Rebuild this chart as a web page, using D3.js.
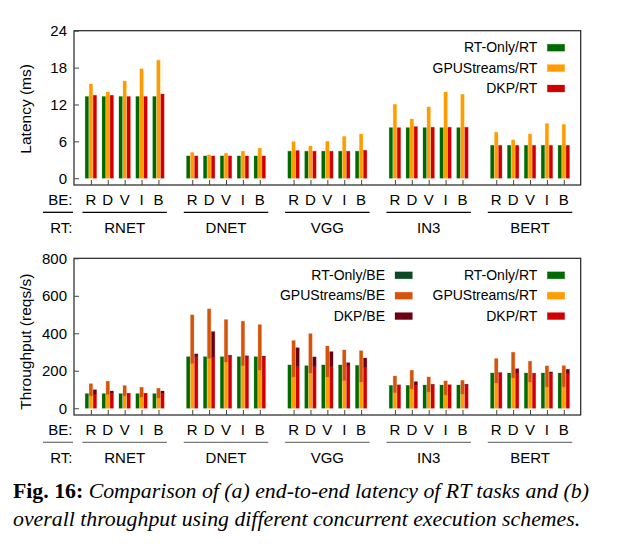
<!DOCTYPE html>
<html>
<head>
<meta charset="utf-8">
<script src="https://cdn.jsdelivr.net/npm/d3@7/dist/d3.min.js"></script>
<style>
  html, body { margin: 0; padding: 0; background: #fff; }
  svg { display: block; }
  .sans { font-family: "Liberation Sans", Arial, Helvetica, sans-serif; }
  .serif { font-family: "Liberation Serif", "Times New Roman", serif; }
</style>
</head>
<body>
<svg id="chart" width="619" height="558"></svg>
<script>
// ---------------- DATA ----------------
const categories = ["RNET", "DNET", "VGG", "IN3", "BERT"];
const beLabels = ["R", "D", "V", "I", "B"];

// (a) Latency (ms), 5 RT models x 5 BE models, order R D V I B
const latRTOnly = [13.3, 13.3, 13.3, 13.3, 13.3,  3.63, 3.63, 3.63, 3.63, 3.63,  4.4, 4.4, 4.4, 4.4, 4.4,
                   8.23, 8.23, 8.23, 8.23, 8.23,  5.36, 5.36, 5.36, 5.36, 5.36];
const latGPUStreams = [15.33, 14.03, 15.8, 17.8, 19.2,  4.2, 3.8, 4.05, 4.4, 4.9,  5.95, 5.25, 6.0, 6.8, 7.2,
                       12.03, 9.64, 11.6, 14.03, 13.65,  7.48, 6.23, 7.2, 8.88, 8.77];
const latDKP = [13.5, 13.5, 13.3, 13.3, 13.7,  3.63, 3.63, 3.63, 3.63, 3.63,  4.5, 4.4, 4.4, 4.4, 4.55,
                8.23, 8.4, 8.3, 8.3, 8.3,  5.36, 5.36, 5.36, 5.36, 5.36];

// (b) Throughput (reqs/s), stacked RT + BE
const thrRTOnlyRT = [78, 78, 78, 78, 78,  275, 275, 275, 275, 275,  231, 227, 231, 231, 229,
                     122, 122, 124, 124, 124,  188, 188, 188, 188, 188];
const thrRTOnlyBE = [0, 0, 0, 0, 0,  0, 0, 0, 0, 0,  0, 0, 0, 0, 0,  0, 0, 0, 0, 0,  0, 0, 0, 0, 0];
const thrGPUStreamsRT = [66, 73, 66, 59, 55,  238, 265, 247, 227, 204,  167, 188, 167, 147, 140,
                         83, 103, 87, 71, 76,  135, 162, 140, 114, 114];
const thrGPUStreamsBE = [65, 71, 55, 53, 52,  260, 265, 226, 237, 242,  194, 210, 165, 164, 167,
                         89, 100, 80, 75, 73,  130, 137, 111, 112, 113];
const thrDKPRT = [76, 80, 78, 78, 78,  275, 273, 275, 275, 273,  222, 222, 222, 226, 220,
                  122, 122, 122, 124, 124,  188, 188, 186, 186, 184];
const thrDKPBE = [23, 12, 2, 2, 14,  15, 136, 8, 5, 5,  101, 52, 80, 17, 48,
                  3, 20, 6, 1, 4,  2, 23, 1, 8, 24];

const latTicks = [0, 6, 12, 18, 24];
const thrTicks = [0, 200, 400, 600, 800];

// ---------------- STYLE ----------------
const C = {
  rtOnlyRT: "#006a00", rtOnlyBE: "#0b4a25",
  gpuRT: "#ff9c00", gpuBE: "#d5540a",
  dkpRT: "#d10000", dkpBE: "#6a0012"
};

const svg = d3.select("#chart");
svg.append("rect").attr("width", 619).attr("height", 558).attr("fill", "#fff");

const left = 74, right = 580.7;
const x = d3.scaleLinear().domain([-1, 29]).range([left, right]);
const slot = (g, i) => g * 6 + i;
const barW = x(0.2) - x(0);
const pitch = 0.237;

function panel(opts) {
  const { top, bottom, domain, ticks, title, series, legendCols, lineColor } = opts;
  const y = d3.scaleLinear().domain(domain).range([bottom, top]);
  const g = svg.append("g");

  // bars
  series.forEach((s, j) => {
    categories.forEach((cat, gi) => {
      beLabels.forEach((be, ii) => {
        const k = gi * 5 + ii;
        const cx = x(slot(gi, ii) + (j - 1) * pitch);
        let base = 0;
        s.parts.forEach(p => {
          const v = p.values[k];
          if (v > 0) {
            g.append("rect")
              .attr("x", cx - barW / 2)
              .attr("y", y(base + v))
              .attr("width", barW)
              .attr("height", y(base) - y(base + v))
              .attr("fill", p.color)
              .attr("stroke", p.color)
              .attr("stroke-opacity", 0.3)
              .attr("stroke-width", 0.8);
          }
          base += v;
        });
      });
    });
  });

  // frame
  g.append("rect").attr("x", left).attr("y", top)
    .attr("width", right - left).attr("height", bottom - top)
    .attr("fill", "none").attr("stroke", "#222").attr("stroke-width", 1.2);

  // y axis ticks + labels
  const yAxis = d3.axisLeft(y).tickValues(ticks).tickSize(-5).tickPadding(7);
  const ya = g.append("g").attr("transform", `translate(${left},0)`).call(yAxis);
  ya.select(".domain").remove();
  ya.selectAll(".tick line").attr("stroke", "#444");
  ya.selectAll(".tick text").attr("class", "sans").attr("font-size", 15).attr("fill", "#000");

  // x ticks
  const slots = [];
  categories.forEach((c, gi) => beLabels.forEach((b, ii) => slots.push(slot(gi, ii))));
  const xAxis = d3.axisBottom(x).tickValues(slots).tickSize(-5).tickFormat("");
  const xa = g.append("g").attr("transform", `translate(0,${bottom})`).call(xAxis);
  xa.select(".domain").remove();
  xa.selectAll(".tick line").attr("stroke", "#444");

  // BE labels row
  const beY = bottom + 20, lineY = bottom + 27.3, rtY = bottom + 48;
  categories.forEach((c, gi) => {
    beLabels.forEach((b, ii) => {
      g.append("text").attr("class", "sans").attr("font-size", 15)
        .attr("x", x(slot(gi, ii))).attr("y", beY).attr("text-anchor", "middle").text(b);
    });
    g.append("line").attr("x1", x(slot(gi, 0) - 0.5)).attr("x2", x(slot(gi, 4) + 0.5))
      .attr("y1", lineY).attr("y2", lineY).attr("stroke", lineColor).attr("stroke-width", 1.3);
    g.append("text").attr("class", "sans").attr("font-size", 15)
      .attr("x", x(slot(gi, 2))).attr("y", rtY).attr("text-anchor", "middle").text(c);
  });
  g.append("text").attr("class", "sans").attr("font-size", 15)
    .attr("x", 72.5).attr("y", beY).attr("text-anchor", "end").text("BE:");
  g.append("line").attr("x1", 43).attr("x2", 73).attr("y1", lineY).attr("y2", lineY)
    .attr("stroke", lineColor).attr("stroke-width", 1.3);
  g.append("text").attr("class", "sans").attr("font-size", 15)
    .attr("x", 72.5).attr("y", rtY).attr("text-anchor", "end").text("RT:");

  // y title
  g.append("text").attr("class", "sans").attr("font-size", 15.5)
    .attr("transform", `translate(30.5,${(top + bottom) / 2 + opts.titleShift}) rotate(-90)`)
    .attr("text-anchor", "middle").text(title);

  // legend
  legendCols.forEach(col => {
    col.items.forEach((it, r) => {
      const cy = top + 17 + r * 20.4;
      g.append("text").attr("class", "sans").attr("font-size", 14)
        .attr("x", col.textX).attr("y", cy + 4.5).attr("text-anchor", "end").text(it.label);
      g.append("rect").attr("x", col.textX + 10).attr("y", cy - 3.5)
        .attr("width", 17.4).attr("height", 7).attr("fill", it.color)
        .attr("stroke", it.color).attr("stroke-opacity", 0.3).attr("stroke-width", 0.8);
    });
  });
}

// (a) latency
panel({
  top: 30.7, bottom: 185, domain: [-1.1, 24], ticks: latTicks, title: "Latency (ms)", titleShift: 1,
  lineColor: "#000",
  series: [
    { parts: [{ values: latRTOnly, color: C.rtOnlyRT }] },
    { parts: [{ values: latGPUStreams, color: C.gpuRT }] },
    { parts: [{ values: latDKP, color: C.dkpRT }] }
  ],
  legendCols: [
    { textX: 537.3, items: [
      { label: "RT-Only/RT", color: C.rtOnlyRT },
      { label: "GPUStreams/RT", color: C.gpuRT },
      { label: "DKP/RT", color: C.dkpRT }
    ] }
  ]
});

// (b) throughput
panel({
  top: 258.3, bottom: 415, domain: [-36, 800], ticks: thrTicks, title: "Throughput (reqs/s)", titleShift: 5,
  lineColor: "#777",
  series: [
    { parts: [{ values: thrRTOnlyRT, color: C.rtOnlyRT }, { values: thrRTOnlyBE, color: C.rtOnlyBE }] },
    { parts: [{ values: thrGPUStreamsRT, color: C.gpuRT }, { values: thrGPUStreamsBE, color: C.gpuBE }] },
    { parts: [{ values: thrDKPRT, color: C.dkpRT }, { values: thrDKPBE, color: C.dkpBE }] }
  ],
  legendCols: [
    { textX: 385, items: [
      { label: "RT-Only/BE", color: C.rtOnlyBE },
      { label: "GPUStreams/BE", color: C.gpuBE },
      { label: "DKP/BE", color: C.dkpBE }
    ] },
    { textX: 537.3, items: [
      { label: "RT-Only/RT", color: C.rtOnlyRT },
      { label: "GPUStreams/RT", color: C.gpuRT },
      { label: "DKP/RT", color: C.dkpRT }
    ] }
  ]
});

// caption
const cap1 = svg.append("text").attr("class", "serif").attr("font-size", 21.8)
  .attr("x", 13).attr("y", 498.3);
cap1.append("tspan").attr("font-weight", "bold").text("Fig. 16:");
cap1.append("tspan").attr("font-style", "italic").text(" Comparison of (a) end-to-end latency of RT tasks and (b)");
svg.append("text").attr("class", "serif").attr("font-size", 21.8).attr("font-style", "italic")
  .attr("x", 13).attr("y", 526)
  .text("overall throughput using different concurrent execution schemes.");
</script>
</body>
</html>
